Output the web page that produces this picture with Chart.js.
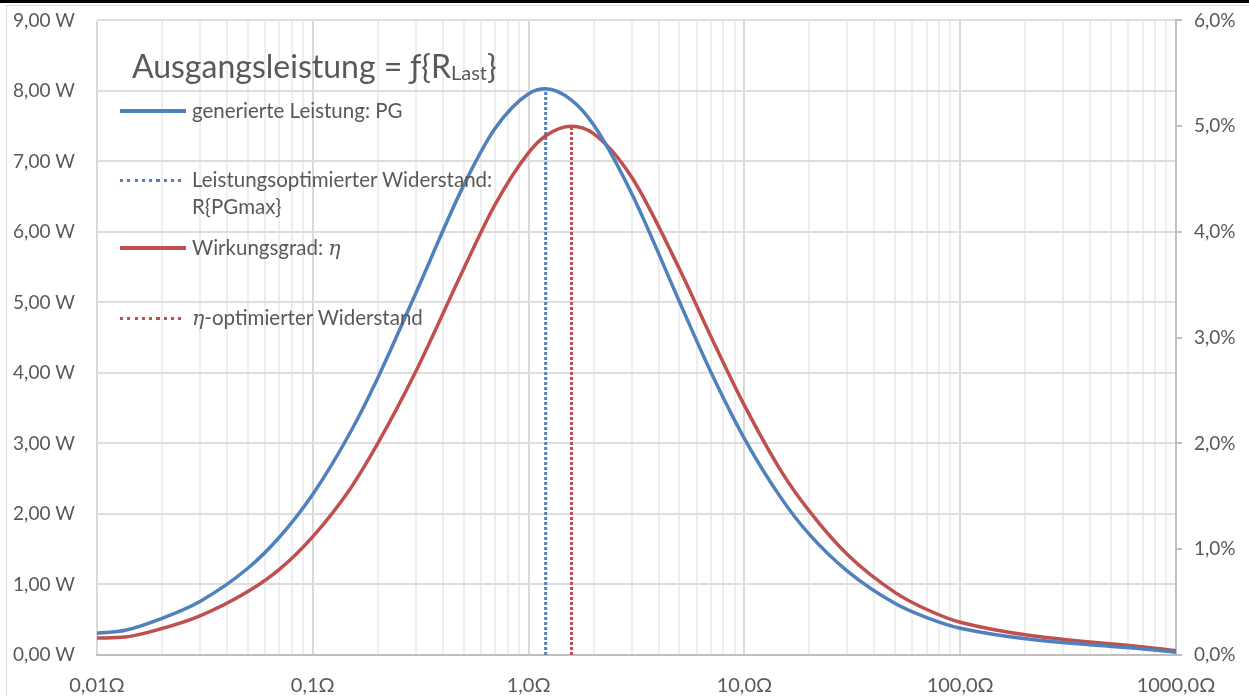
<!DOCTYPE html>
<html lang="de">
<head>
<meta charset="utf-8">
<title>Ausgangsleistung = f{RLast}</title>
<script src="https://cdn.jsdelivr.net/npm/chart.js@4.4.1/dist/chart.umd.min.js"></script>
<style>
  html, body { margin: 0; padding: 0; background: #fff; }
  #wrap { position: relative; width: 1249px; height: 696px; overflow: hidden;
          font-family: Lato, "Open Sans", sans-serif; color: #595959; }
  #topBar { position: absolute; left: 0; top: 0; width: 1249px; height: 3px; background: #000; }
  #frame { position: absolute; left: 6px; top: 5px; width: 1400px; height: 900px; border: 1px solid #d9d9d9; }
  #chart { position: absolute; left: 0; top: -13px; }
  .title { position: absolute; left: 132px; top: 46px; font-size: 32px; line-height: 40px; white-space: nowrap; }
  .title sub { font-size: 20px; vertical-align: -2px; }
  .swatch { position: absolute; left: 120px; width: 66px; height: 4px; }
  .solid-blue { background: #4f81bd; }
  .solid-red { background: #c0504d; }
  .dot-blue { height: 3px; background: repeating-linear-gradient(to right, #4f81bd 0 3px, transparent 3px 7.3px); }
  .dot-red { height: 3px; background: repeating-linear-gradient(to right, #c0504d 0 3px, transparent 3px 7.3px); }
  .ltext { position: absolute; left: 192px; font-size: 20.5px; line-height: 27px; white-space: nowrap; }
  .eta { font-family: "DejaVu Serif", serif; font-style: italic; }
</style>
</head>
<body>
<div id="wrap">
  <div id="frame"></div>
  <canvas id="chart" width="1249" height="709"></canvas>
  <div id="topBar"></div>
  <div class="title">Ausgangsleistung = ƒ{R<sub>Last</sub>}</div>

  <div class="swatch solid-blue" style="top:109px"></div>
  <div class="ltext" style="top:97px">generierte Leistung: PG</div>

  <div class="swatch dot-blue" style="top:179px"></div>
  <div class="ltext" style="top:166px">Leistungsoptimierter Widerstand:<br>R{PGmax}</div>

  <div class="swatch solid-red" style="top:246px"></div>
  <div class="ltext" style="top:234px">Wirkungsgrad: <span class="eta">η</span></div>

  <div class="swatch dot-red" style="top:317px"></div>
  <div class="ltext" style="top:304px"><span class="eta">η</span>-optimierter Widerstand</div>
</div>

<script>
// load resistance in ohms (x values, log axis)
const resistance = [0.01, 0.0135, 0.02, 0.03, 0.05, 0.07, 0.1, 0.15, 0.2, 0.3, 0.5, 0.7,
                    1.0, 1.2, 1.58, 2, 3, 5, 7, 10, 15, 20, 30, 50, 70, 100, 1000];

// generated power PG in W (left axis)
const powerW = [0.31, 0.35, 0.52, 0.76, 1.23, 1.67, 2.28, 3.17, 3.93, 5.13, 6.66, 7.47,
                7.96, 8.03, 7.87, 7.52, 6.55, 5.01, 4.01, 3.07, 2.20, 1.71, 1.19, 0.73, 0.53, 0.38, 0.04];

// efficiency eta in % (right axis)
const efficiencyPct = [0.16, 0.17, 0.25, 0.37, 0.60, 0.81, 1.12, 1.58, 2.00, 2.68, 3.65, 4.26,
                       4.75, 4.91, 5.00, 4.93, 4.52, 3.65, 3.01, 2.36, 1.72, 1.36, 0.95, 0.59, 0.43, 0.31, 0.04];

// optimum markers
const powerOptR = 1.2;
const powerOptW = 8.03;
const etaOptR = 1.58;
const etaOptPct = 5.0;

// axis ticks
const xMajorTicks = [0.01, 0.1, 1, 10, 100, 1000];
const xTickLabels = ['0,01Ω', '0,1Ω', '1,0Ω', '10,0Ω', '100,0Ω', '1000,0Ω'];
const powerTickLabels = ['0,00 W', '1,00 W', '2,00 W', '3,00 W', '4,00 W', '5,00 W', '6,00 W', '7,00 W', '8,00 W', '9,00 W'];
const etaTickLabels = ['0,0%', '1,0%', '2,0%', '3,0%', '4,0%', '5,0%', '6,0%'];

const blue = '#4f81bd';
const red = '#c0504d';
const labelColor = '#595959';
const yFont = { family: 'Lato, "Open Sans", sans-serif', size: 19 };
const xFont = { family: 'Lato, "Open Sans", sans-serif', size: 20 };

function majorIndex(v) {
    return xMajorTicks.findIndex(m => Math.abs(v / m - 1) < 1e-6);
}

const data = {
    datasets: [
        {
            label: 'generierte Leistung: PG',
            data: resistance.map((r, i) => ({ x: r, y: powerW[i] })),
            yAxisID: 'y',
            borderColor: blue,
            borderWidth: 3.5,
            pointRadius: 0,
            tension: 0.4,
            cubicInterpolationMode: 'monotone'
        },
        {
            label: 'Wirkungsgrad: η',
            data: resistance.map((r, i) => ({ x: r, y: efficiencyPct[i] })),
            yAxisID: 'y2',
            borderColor: red,
            borderWidth: 3.5,
            pointRadius: 0,
            tension: 0.4,
            cubicInterpolationMode: 'monotone'
        },
        {
            label: 'Leistungsoptimierter Widerstand: R{PGmax}',
            data: [{ x: powerOptR, y: 0 }, { x: powerOptR, y: powerOptW }],
            yAxisID: 'y',
            borderColor: blue,
            borderWidth: 3,
            borderDash: [3, 2],
            pointRadius: 0
        },
        {
            label: 'η-optimierter Widerstand',
            data: [{ x: etaOptR, y: 0 }, { x: etaOptR, y: etaOptPct }],
            yAxisID: 'y2',
            borderColor: red,
            borderWidth: 3,
            borderDash: [3, 2],
            pointRadius: 0
        }
    ]
};

const config = {
    type: 'line',
    data: data,
    options: {
        responsive: false,
        animation: false,
        layout: { padding: { top: 6, left: 0, right: 0, bottom: 0 } },
        plugins: {
            legend: { display: false },
            tooltip: { enabled: false }
        },
        scales: {
            x: {
                type: 'logarithmic',
                min: 0.01,
                max: 1000,
                afterBuildTicks: (scale) => {
                    const t = [];
                    xMajorTicks.forEach((m, i) => {
                        if (i === xMajorTicks.length - 1) { t.push({ value: m }); return; }
                        for (let k = 1; k < 10; k++) t.push({ value: m * k });
                    });
                    scale.ticks = t;
                },
                afterFit: (scale) => { scale.height = 41; },
                ticks: {
                    autoSkip: false,
                    maxRotation: 0,
                    padding: 19,
                    color: labelColor,
                    font: xFont,
                    callback: (value) => {
                        const i = majorIndex(value);
                        return i >= 0 ? xTickLabels[i] : '';
                    }
                },
                grid: {
                    drawTicks: false,
                    lineWidth: 2,
                    color: (ctx) => (ctx.tick && majorIndex(ctx.tick.value) >= 0) ? '#d9d9d9' : '#eeeeee'
                },
                border: { color: '#bfbfbf', width: 2 }
            },
            y: {
                position: 'left',
                min: 0,
                max: 9,
                afterFit: (scale) => { scale.width = 97; },
                ticks: {
                    stepSize: 1,
                    padding: 22,
                    color: labelColor,
                    font: yFont,
                    callback: (value) => powerTickLabels[Math.round(value)]
                },
                grid: { drawTicks: false, color: '#dedede', lineWidth: 2 },
                border: { display: false }
            },
            y2: {
                position: 'right',
                min: 0,
                max: 6,
                afterFit: (scale) => { scale.width = 73; },
                ticks: {
                    stepSize: 1,
                    padding: 12,
                    color: labelColor,
                    font: yFont,
                    callback: (value) => etaTickLabels[Math.round(value)]
                },
                grid: { drawOnChartArea: false, tickLength: 6, tickColor: '#bfbfbf', lineWidth: 2 },
                border: { color: '#bfbfbf', width: 2 }
            }
        }
    }
};

const ctx = document.getElementById('chart').getContext('2d');
new Chart(ctx, config);
</script>
</body>
</html>
